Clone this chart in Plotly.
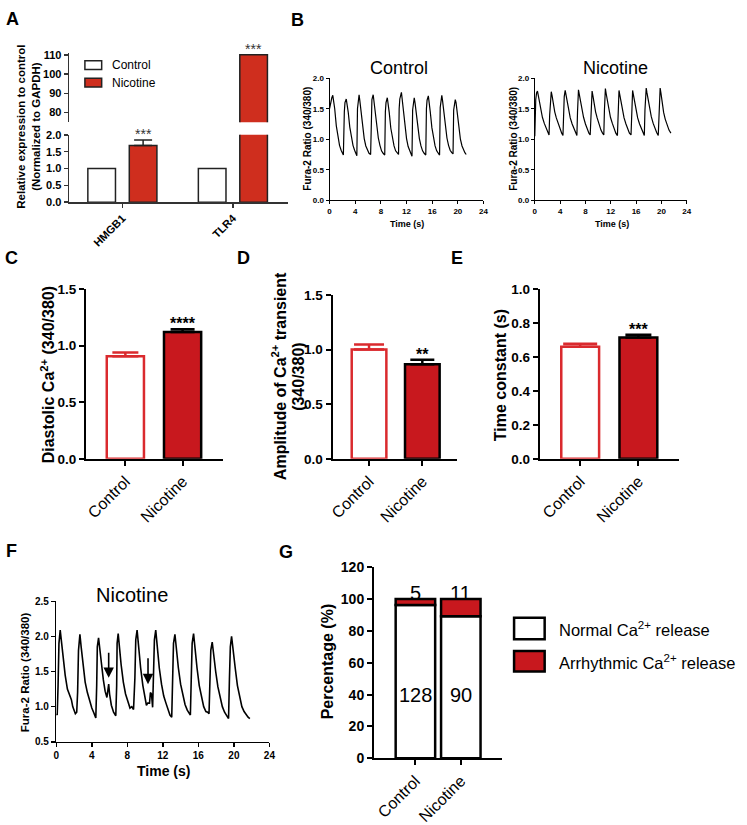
import plotly.graph_objects as go

FONT = "Liberation Sans"
W, H = 747, 825

# ---------------- data ----------------
# Panel A
genes = ["HMGB1", "TLR4"]
a_control = [1.0, 1.0]
a_nicotine = [1.68, 110.0]
a_nicotine_err = [0.17, 0.0]
a_stars = ["***", "***"]

# Panel B (Control trace)
b_ctrl_t = [0.0, 0.15, 0.35, 0.5, 0.62, 0.8, 1.05, 1.3, 1.55, 1.8, 2.0, 2.15,
            2.3, 2.4, 2.6, 2.72, 2.9, 3.15, 3.4, 3.65, 3.9, 4.1, 4.25,
            4.35, 4.45, 4.6, 4.72, 4.9, 5.15, 5.4, 5.65, 5.9, 6.15, 6.4,
            6.5, 6.6, 6.8, 6.92, 7.1, 7.35, 7.6, 7.85, 8.1, 8.35, 8.6,
            8.7, 8.8, 9.0, 9.12, 9.3, 9.55, 9.8, 10.05, 10.3, 10.55, 10.75,
            10.85, 10.95, 11.2, 11.32, 11.5, 11.75, 12.0, 12.25, 12.5, 12.7, 12.85,
            12.95, 13.05, 13.2, 13.32, 13.5, 13.75, 14.0, 14.25, 14.5, 14.75, 15.0,
            15.1, 15.2, 15.4, 15.52, 15.7, 15.95, 16.2, 16.45, 16.7, 16.95, 17.15,
            17.25, 17.35, 17.5, 17.62, 17.8, 18.05, 18.3, 18.55, 18.8, 19.05, 19.25,
            19.35, 19.45, 19.6, 19.72, 19.9, 20.15, 20.4, 20.65, 20.9, 21.1, 21.3]
b_ctrl_y = [1.50, 1.60, 1.68, 1.72, 1.65, 1.50, 1.22, 1.03, 0.90, 0.82, 0.77, 0.74,
            1.45, 1.60, 1.66, 1.60, 1.45, 1.20, 1.02, 0.90, 0.82, 0.77, 0.73,
            1.50, 1.64, 1.73, 1.63, 1.46, 1.20, 1.01, 0.89, 0.82, 0.77, 0.75,
            1.50, 1.65, 1.73, 1.62, 1.45, 1.19, 1.02, 0.90, 0.81, 0.77, 0.74,
            1.45, 1.60, 1.68, 1.60, 1.44, 1.18, 1.00, 0.89, 0.81, 0.77, 0.75,
            1.50, 1.66, 1.77, 1.65, 1.46, 1.20, 1.01, 0.88, 0.80, 0.75, 0.72,
            1.48, 1.60, 1.68, 1.60, 1.45, 1.19, 1.01, 0.89, 0.81, 0.77, 0.74,
            1.50, 1.64, 1.71, 1.62, 1.45, 1.19, 1.01, 0.89, 0.81, 0.77, 0.74,
            1.52, 1.66, 1.72, 1.63, 1.46, 1.20, 1.02, 0.90, 0.82, 0.78, 0.76,
            1.48, 1.60, 1.65, 1.60, 1.44, 1.18, 1.00, 0.89, 0.81, 0.78, 0.75]

# Panel B (Nicotine trace)
b_nic_t = [0.0, 0.04, 0.15, 0.28, 0.42, 0.55, 0.75, 0.97, 1.2, 1.5, 1.8, 2.05, 2.25,
           2.35, 2.45, 2.6, 2.72, 2.9, 3.15, 3.4, 3.7, 4.0, 4.25, 4.45,
           4.55, 4.65, 4.8, 4.92, 5.1, 5.35, 5.6, 5.9, 6.2, 6.45, 6.65,
           6.75, 6.8, 6.9, 7.02, 7.2, 7.45, 7.7, 8.0, 8.3, 8.55, 8.75,
           8.85, 8.92, 9.05, 9.17, 9.35, 9.6, 9.85, 10.15, 10.45, 10.7, 10.9,
           11.0, 11.05, 11.15, 11.27, 11.45, 11.7, 11.95, 12.25, 12.55, 12.8, 13.05,
           13.15, 13.2, 13.3, 13.42, 13.6, 13.85, 14.1, 14.4, 14.7, 14.95, 15.2,
           15.3, 15.35, 15.45, 15.57, 15.75, 16.0, 16.25, 16.55, 16.85, 17.1, 17.3,
           17.4, 17.47, 17.6, 17.72, 17.9, 18.15, 18.4, 18.7, 19.0, 19.25, 19.5,
           19.6, 19.67, 19.8, 19.92, 20.1, 20.35, 20.6, 20.9, 21.2, 21.5]
b_nic_y = [1.05, 1.40, 1.65, 1.76, 1.79, 1.72, 1.60, 1.46, 1.36, 1.26, 1.17, 1.11, 1.07,
           1.40, 1.68, 1.78, 1.72, 1.60, 1.45, 1.35, 1.25, 1.16, 1.10, 1.06,
           1.45, 1.70, 1.80, 1.73, 1.61, 1.46, 1.35, 1.25, 1.16, 1.10, 1.06,
           1.45, 1.72, 1.81, 1.74, 1.62, 1.47, 1.36, 1.25, 1.16, 1.10, 1.07,
           1.45, 1.70, 1.79, 1.72, 1.60, 1.45, 1.35, 1.24, 1.15, 1.10, 1.07,
           1.48, 1.74, 1.83, 1.75, 1.63, 1.47, 1.36, 1.26, 1.17, 1.10, 1.06,
           1.45, 1.71, 1.80, 1.73, 1.61, 1.46, 1.35, 1.25, 1.16, 1.10, 1.07,
           1.45, 1.71, 1.80, 1.73, 1.61, 1.46, 1.35, 1.25, 1.16, 1.10, 1.06,
           1.48, 1.75, 1.84, 1.76, 1.64, 1.48, 1.37, 1.26, 1.17, 1.11, 1.06,
           1.48, 1.75, 1.84, 1.76, 1.62, 1.44, 1.33, 1.23, 1.15, 1.10]

# Panels C, D, E
groups = ["Control", "Nicotine"]
c_vals = [0.905, 1.12]
c_err = [0.035, 0.025]
c_star = "****"
d_vals = [1.0, 0.866]
d_err = [0.045, 0.04]
d_star = "**"
e_vals = [0.66, 0.714]
e_err = [0.018, 0.016]
e_star = "***"

# Panel F (Nicotine trace with arrhythmic events)
f_t = [0.0, 0.1, 0.2, 0.3, 0.44, 0.55, 0.75, 1.0, 1.25, 1.5, 1.7, 1.85, 2.0, 2.15, 2.3,
       2.4, 2.5, 2.66, 2.8, 3.0, 3.25, 3.5, 3.75, 4.0, 4.2, 4.45,
       4.55, 4.62, 4.76, 4.9, 5.1, 5.3, 5.5, 5.7, 5.8, 5.9, 6.0, 6.2, 6.45, 6.7,
       6.8, 6.85, 6.97, 7.1, 7.3, 7.55, 7.8, 8.05, 8.3, 8.5, 8.7,
       8.85, 8.95, 9.1, 9.25, 9.5, 9.75, 9.95, 10.15, 10.3, 10.5, 10.6, 10.72, 10.85,
       10.95, 11.05, 11.2, 11.35, 11.6, 11.85, 12.1, 12.35, 12.6, 12.8, 13.0,
       13.1, 13.2, 13.36, 13.5, 13.75, 14.0, 14.25, 14.5, 14.75, 14.95, 15.1,
       15.2, 15.3, 15.46, 15.6, 15.85, 16.1, 16.35, 16.6, 16.85, 17.05, 17.2,
       17.3, 17.4, 17.56, 17.7, 17.95, 18.2, 18.45, 18.7, 18.95, 19.2, 19.4,
       19.5, 19.6, 19.74, 19.9, 20.15, 20.4, 20.65, 20.9, 21.15, 21.4, 21.6, 21.8]
f_y = [0.90, 0.88, 1.30, 1.90, 2.09, 1.95, 1.70, 1.45, 1.25, 1.15, 1.10, 1.00, 0.95, 0.90, 0.92,
       1.20, 1.80, 2.03, 1.85, 1.60, 1.35, 1.20, 1.08, 0.98, 0.92, 0.84,
       1.30, 1.85, 1.98, 1.85, 1.60, 1.38, 1.22, 1.13, 1.20, 1.32, 1.18, 1.02, 0.92, 0.87,
       1.30, 1.90, 2.04, 1.85, 1.60, 1.35, 1.18, 1.08, 0.98, 1.00, 0.96,
       1.40, 1.95, 2.09, 1.85, 1.55, 1.30, 1.15, 1.02, 1.05, 1.05, 1.20, 1.18, 0.99,
       1.50, 1.95, 2.09, 1.85, 1.55, 1.32, 1.15, 1.05, 0.95, 0.88, 0.85,
       1.40, 1.90, 2.03, 1.85, 1.55, 1.32, 1.15, 1.03, 0.95, 0.90, 0.88,
       1.40, 1.90, 2.04, 1.85, 1.55, 1.30, 1.12, 1.00, 0.93, 0.92, 0.90,
       1.30, 1.80, 1.92, 1.75, 1.50, 1.28, 1.12, 1.00, 0.92, 0.86, 0.83,
       1.40, 1.85, 2.00, 1.80, 1.55, 1.30, 1.12, 1.00, 0.93, 0.88, 0.85, 0.83]
f_arrow_t = [5.9, 10.33]
f_arrow_tip = [1.41, 1.32]
f_arrow_tail = [1.79, 1.71]

# Panel G
g_normal_pct = [96.2, 89.1]
g_arrhythmic_pct = [3.8, 10.9]
g_normal_n = [128, 90]
g_arrhythmic_n = [5, 11]

# ---------------- styling ----------------
A_RED = "#CF2E1E"
RED = "#C8181E"
CTRL_RED = "#DA2A2E"


def dx(a, b):
    return [a / W, b / W]


def dy(top, bottom):
    return [1 - bottom / H, 1 - top / H]


def ax(lw, tl, tfs, bold=True, color="black", **kw):
    d = dict(showline=True, linecolor=color, linewidth=lw, ticks="outside",
             ticklen=tl, tickwidth=lw, tickcolor=color, showgrid=False,
             zeroline=False, fixedrange=True,
             tickfont=dict(family=FONT, size=tfs, color="black",
                           weight="bold" if bold else "normal"))
    d.update(kw)
    return d


fig = go.Figure()

# ---- Panel A ----
for xa, ya, with_err in (("x", "y", True), ("x2", "y2", False)):
    fig.add_trace(go.Bar(x=genes, y=a_control, xaxis=xa, yaxis=ya, width=0.25, offset=-0.3125,
                         marker=dict(color="white", line=dict(color="#222", width=1.5)),
                         showlegend=False))
    fig.add_trace(go.Bar(x=genes, y=a_nicotine, xaxis=xa, yaxis=ya, width=0.25, offset=0.0625,
                         marker=dict(color=A_RED, line=dict(color="#222", width=1.5)),
                         error_y=dict(type="data", array=a_nicotine_err, arrayminus=[0, 0],
                                      symmetric=False, color="#222", thickness=1.5, width=9,
                                      visible=with_err),
                         showlegend=False))

# ---- Panel B ----
fig.add_trace(go.Scatter(x=b_ctrl_t, y=b_ctrl_y, xaxis="x3", yaxis="y3", mode="lines",
                         line=dict(color="black", width=1.2), showlegend=False))
fig.add_trace(go.Scatter(x=b_nic_t, y=b_nic_y, xaxis="x4", yaxis="y4", mode="lines",
                         line=dict(color="black", width=1.2), showlegend=False))

# ---- Panels C, D, E ----
for (vals, errs, xa, ya, cw, nw) in ((c_vals, c_err, "x5", "y5", 13, 12),
                                     (d_vals, d_err, "x6", "y6", 15, 12),
                                     (e_vals, e_err, "x7", "y7", 17, 13)):
    fig.add_trace(go.Bar(x=[groups[0]], y=[vals[0]], xaxis=xa, yaxis=ya, width=0.65,
                         marker=dict(color="white", line=dict(color=CTRL_RED, width=2.5)),
                         error_y=dict(type="data", array=[errs[0]], arrayminus=[0], symmetric=False,
                                      color=CTRL_RED, thickness=2.5, width=cw),
                         showlegend=False))
    fig.add_trace(go.Bar(x=[groups[1]], y=[vals[1]], xaxis=xa, yaxis=ya, width=0.65,
                         marker=dict(color=RED, line=dict(color="black", width=2.5)),
                         error_y=dict(type="data", array=[errs[1]], arrayminus=[0], symmetric=False,
                                      color="black", thickness=2.5, width=nw),
                         showlegend=False))

# ---- Panel F ----
fig.add_trace(go.Scatter(x=f_t, y=f_y, xaxis="x8", yaxis="y8", mode="lines",
                         line=dict(color="black", width=1.6), showlegend=False))

# ---- Panel G ----
fig.add_trace(go.Bar(x=groups, y=g_normal_pct, xaxis="x9", yaxis="y9", width=0.87,
                     marker=dict(color="white", line=dict(color="black", width=2.5)),
                     showlegend=False))
fig.add_trace(go.Bar(x=groups, y=g_arrhythmic_pct, base=g_normal_pct, xaxis="x9", yaxis="y9",
                     width=0.87, marker=dict(color=RED, line=dict(color="black", width=2.5)),
                     showlegend=False))

# ---------------- axes ----------------
layout_axes = dict(
    # A lower
    xaxis=ax(1.5, 4, 11, color="#333", type="category", domain=dx(66, 288), range=[-0.482, 1.5],
             anchor="y", tickangle=-45),
    yaxis=ax(1.5, 4, 11, color="#333", domain=dy(130, 199), range=[0, 2.0], dtick=0.5,
             tickformat=".1f", anchor="x"),
    # A upper
    xaxis2=dict(type="category", domain=dx(66, 288), range=[-0.482, 1.5], anchor="y2",
                visible=False, fixedrange=True),
    yaxis2=ax(1.5, 4, 11, color="#333", domain=dy(46, 117), range=[75, 111], dtick=10,
              tickformat="d", anchor="x2"),
    # B control
    xaxis3=ax(1, 3, 8, domain=dx(330, 486), range=[0, 24], dtick=4, anchor="y3"),
    yaxis3=ax(1, 3, 8, domain=dy(72, 197), range=[0, 2.0], dtick=0.5, tickformat=".1f", anchor="x3"),
    # B nicotine
    xaxis4=ax(1, 3, 8, domain=dx(538, 692), range=[0, 24], dtick=4, anchor="y4"),
    yaxis4=ax(1, 3, 8, domain=dy(72, 197), range=[0, 2.0], dtick=0.5, tickformat=".1f", anchor="x4"),
    # C
    xaxis5=ax(2, 5, 16, bold=False, type="category", domain=dx(83, 222), range=[-0.69, 1.707],
              anchor="y5", tickangle=-45),
    yaxis5=ax(2, 5, 13.5, domain=dy(288, 462), range=[0, 1.5], dtick=0.5, tickformat=".1f", anchor="x5"),
    # D
    xaxis6=ax(2, 5, 16, bold=False, type="category", domain=dx(333, 459), range=[-0.685, 1.648],
              anchor="y6", tickangle=-45),
    yaxis6=ax(2, 5, 13.5, domain=dy(294, 462), range=[0, 1.5], dtick=0.5, tickformat=".1f", anchor="x6"),
    # E
    xaxis7=ax(2, 5, 16, bold=False, type="category", domain=dx(543, 684), range=[-0.695, 1.695],
              anchor="y7", tickangle=-45),
    yaxis7=ax(2, 5, 13.5, domain=dy(288, 462), range=[0, 1.0], dtick=0.2, tickformat=".1f", anchor="x7"),
    # F
    xaxis8=ax(1.5, 4, 10, domain=dx(53, 269), range=[0, 24], dtick=4, anchor="y8"),
    yaxis8=ax(1.5, 4, 10, domain=dy(608, 752), range=[0.5, 2.5], dtick=0.5, tick0=0.5,
              tickformat=".1f", anchor="x8"),
    # G
    xaxis9=ax(2, 5, 16, bold=False, type="category", domain=dx(375, 505), range=[-0.913, 1.913],
              anchor="y9", tickangle=-45),
    yaxis9=ax(2, 5, 14, domain=dy(573, 769), range=[0, 120], dtick=20, tickformat="d", anchor="x9"),
)

# ---------------- annotations ----------------
ann = []


def ptxt(xp, yp, text, size, bold=False, angle=0, xanchor="center", color="black"):
    ann.append(dict(x=xp / W, y=1 - yp / H, xref="paper", yref="paper", text=text,
                    showarrow=False, textangle=angle, xanchor=xanchor, yanchor="middle",
                    font=dict(family=FONT, size=size, color=color,
                              weight="bold" if bold else "normal")))


# panel letters
for letter, xp, yp in (("A", 9, 11), ("B", 297, 12), ("C", 8, 256), ("D", 243, 256),
                       ("E", 459, 256), ("F", 8, 557), ("G", 286, 558)):
    ptxt(xp, yp, letter, 18, bold=True)

# A
ptxt(24, 122, "Relative expression to control<br>(Normalized to GAPDH)", 11.5, bold=True, angle=-90)
ann.append(dict(x=genes[0], y=a_nicotine[0] + a_nicotine_err[0], xref="x", yref="y", xshift=21,
                yanchor="bottom", yshift=-4, text=a_stars[0], showarrow=False,
                font=dict(family=FONT, size=14, color="#333")))
ann.append(dict(x=genes[1], y=a_nicotine[1], xref="x2", yref="y2", xshift=21,
                yanchor="bottom", yshift=-4, text=a_stars[1], showarrow=False,
                font=dict(family=FONT, size=14, color="#333")))
ptxt(107, 58.5, "Control", 12, xanchor="left")
ptxt(107, 76.5, "Nicotine", 12, xanchor="left")

# B
ptxt(400, 61, "Control", 18)
ptxt(620, 61, "Nicotine", 18)
ptxt(308, 134, "Fura-2 Ratio (340/380)", 10, bold=True, angle=-90)
ptxt(517, 134, "Fura-2 Ratio (340/380)", 10, bold=True, angle=-90)
ptxt(408, 221, "Time (s)", 9, bold=True)
ptxt(616, 221, "Time (s)", 9, bold=True)

# C, D, E
ptxt(44, 376, "Diastolic Ca<sup>2+</sup> (340/380)", 16, bold=True, angle=-90)
ptxt(279, 377, "Amplitude of Ca<sup>2+</sup> transient", 16, bold=True, angle=-90)
ptxt(299, 377, "(340/380)", 16, bold=True, angle=-90)
ptxt(504, 376, "Time constant (s)", 16, bold=True, angle=-90)
for xa, ya, vals, errs, star in (("x5", "y5", c_vals, c_err, c_star),
                                  ("x6", "y6", d_vals, d_err, d_star),
                                  ("x7", "y7", e_vals, e_err, e_star)):
    ann.append(dict(x=groups[1], y=vals[1] + errs[1], xref=xa, yref=ya, yanchor="bottom",
                    yshift=-5, text=star, showarrow=False,
                    font=dict(family=FONT, size=16, color="black", weight="bold")))

# F
ptxt(130, 602, "Nicotine", 20)
ptxt(22, 681, "Fura-2 Ratio (340/380)", 11.5, bold=True, angle=-90)
ptxt(162, 782, "Time (s)", 14, bold=True)
for t, tip, tail in zip(f_arrow_t, f_arrow_tip, f_arrow_tail):
    ann.append(dict(x=t, y=tip, xref="x8", yref="y8", ax=t, ay=tail, axref="x8", ayref="y8",
                    showarrow=True, arrowhead=2, arrowsize=1.3, arrowwidth=1.6,
                    arrowcolor="black", text=""))

# G
ptxt(328, 670, "Percentage (%)", 16, bold=True, angle=-90)
for i, g in enumerate(groups):
    ann.append(dict(x=g, y=g_normal_pct[i] + g_arrhythmic_pct[i], xref="x9", yref="y9",
                    yanchor="middle", yshift=6, text=str(g_arrhythmic_n[i]), showarrow=False,
                    font=dict(family=FONT, size=20, color="black")))
    ann.append(dict(x=g, y=40, xref="x9", yref="y9", yanchor="middle", text=str(g_normal_n[i]),
                    showarrow=False, font=dict(family=FONT, size=20, color="black")))
ptxt(560, 636, "Normal Ca<sup>2+</sup> release", 16.5, xanchor="left")
ptxt(560, 670, "Arrhythmic Ca<sup>2+</sup> release", 16.5, xanchor="left")

# legend swatches (paper coordinates)
shapes = []


def rect(x0, y0, x1, y1, fill, lc, lw):
    shapes.append(dict(type="rect", xref="paper", yref="paper", x0=x0 / W, x1=x1 / W,
                       y0=1 - y1 / H, y1=1 - y0 / H, fillcolor=fill,
                       line=dict(color=lc, width=lw)))


rect(82, 54, 99, 63, "white", "#222", 1.5)
rect(82, 72, 99, 81, A_RED, "#222", 1.5)
rect(517, 625, 548, 647, "white", "black", 2.5)
rect(517, 659, 548, 680, RED, "black", 2.5)

fig.update_layout(
    width=W, height=H, autosize=False,
    margin=dict(l=0, r=0, t=0, b=0),
    paper_bgcolor="white", plot_bgcolor="white",
    barmode="overlay",
    font=dict(family=FONT, color="black"),
    annotations=ann, shapes=shapes,
    showlegend=False,
    **layout_axes,
)

fig.write_html("out.html",
               config={"displayModeBar": False, "staticPlot": True},
               post_script="document.body.style.margin='0px';document.body.style.padding='0px';")
